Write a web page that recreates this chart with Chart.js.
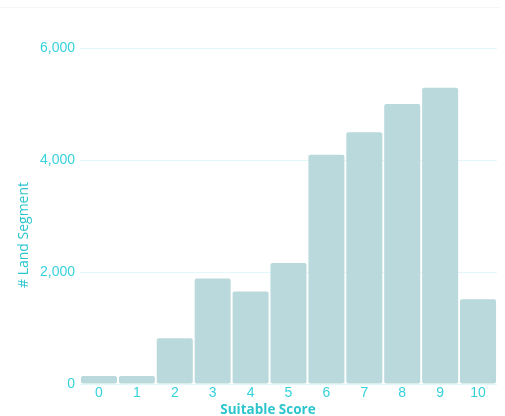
<!DOCTYPE html>
<html>
<head>
<meta charset="utf-8">
<script src="https://cdn.jsdelivr.net/npm/chart.js@4"></script>
<style>
  html, body { margin: 0; padding: 0; background: #ffffff; }
  #wrap { position: relative; width: 505px; height: 416px; }
  #topline { position: absolute; left: 0; top: 7px; width: 500px; border-top: 1px solid #f4f5f5; }
  canvas { position: absolute; left: 0; top: 0; }
</style>
</head>
<body>
<div id="wrap">
  <div id="topline"></div>
  <canvas id="c" width="505" height="416"></canvas>
</div>
<script>
const categories = ["0", "1", "2", "3", "4", "5", "6", "7", "8", "9", "10"];
const landSegments = [145, 145, 815, 1885, 1650, 2160, 4095, 4495, 5000, 5290, 1515];
const yTicks = [0, 2000, 4000, 6000];
const xTitle = "Suitable Score";
const yTitle = "# Land Segment";

const tickColor = "#36d2dc";
const titleColor = "#2cc5ce";
const barColor = "#b9d9dc";
const gridColor = "#e2f8fa";

const axisTitles = {
  id: "axisTitles",
  afterDraw(chart) {
    const { ctx, chartArea } = chart;
    ctx.save();
    ctx.fillStyle = titleColor;
    ctx.textAlign = "center";
    ctx.textBaseline = "middle";
    ctx.font = "bold 13.5px 'Open Sans'";
    ctx.fillText(xTitle, chartArea.left + 188, chartArea.bottom + 26);
    ctx.font = "500 14px 'Open Sans'";
    ctx.translate(24, chartArea.top + 187);
    ctx.rotate(-Math.PI / 2);
    ctx.fillText(yTitle, 0, 0);
    ctx.restore();
  }
};

new Chart(document.getElementById("c"), {
  type: "bar",
  data: {
    labels: categories,
    datasets: [{
      data: landSegments,
      backgroundColor: barColor,
      borderRadius: 2,
      borderSkipped: false,
      barPercentage: 0.95,
      categoryPercentage: 1.0
    }]
  },
  options: {
    responsive: false,
    animation: false,
    layout: { padding: { top: 48, right: 8, bottom: 0, left: 0 } },
    plugins: { legend: { display: false }, tooltip: { enabled: false } },
    scales: {
      x: {
        grid: { display: false, drawTicks: false, tickLength: 0 },
        border: { display: false },
        ticks: {
          color: tickColor,
          font: { family: "'Liberation Sans', Arial, sans-serif", size: 14 },
          padding: 1,
          maxRotation: 0
        },
        afterFit(scale) { scale.height = 32; }
      },
      y: {
        min: 0,
        max: 6000,
        afterBuildTicks(scale) { scale.ticks = yTicks.map(v => ({ value: v })); },
        grid: { color: gridColor, drawTicks: false, lineWidth: 1 },
        border: { display: false },
        ticks: {
          color: tickColor,
          font: { family: "'Liberation Sans', Arial, sans-serif", size: 14 },
          padding: 5,
          callback: v => v.toLocaleString("en-US")
        },
        afterFit(scale) { scale.width = 80; }
      }
    }
  },
  plugins: [axisTitles]
});
</script>
</body>
</html>
